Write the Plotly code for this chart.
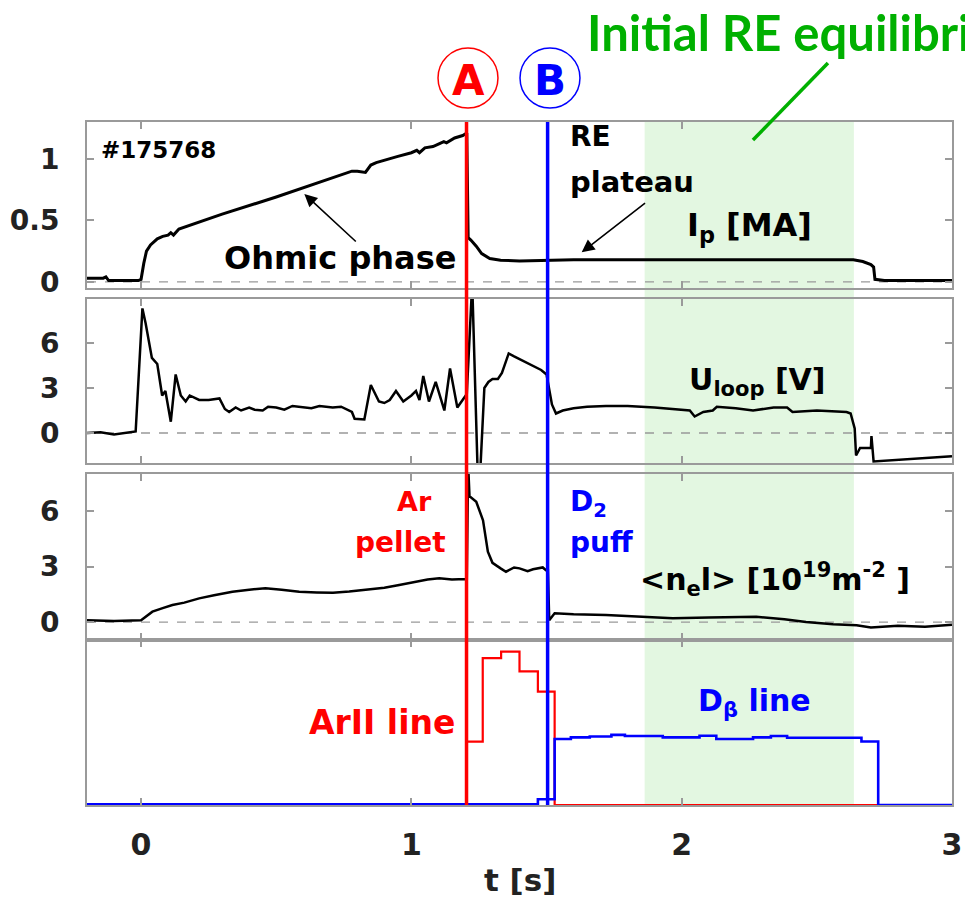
import plotly.graph_objects as go

# ---------------- data ----------------
t_ip = [-0.2, -0.14, -0.13, -0.12, -0.01, 0.0, 0.01, 0.02, 0.035, 0.06, 0.08, 0.1, 0.11, 0.12, 0.14,
        0.3, 0.5, 0.7, 0.78, 0.8, 0.83, 0.85, 0.87, 0.95, 1.0, 1.02, 1.03, 1.05, 1.08, 1.1, 1.12, 1.13,
        1.16, 1.19, 1.2, 1.205, 1.21, 1.22, 1.24, 1.26, 1.29, 1.33, 1.4, 1.5, 1.6, 1.8, 2.0, 2.2, 2.4,
        2.6, 2.635, 2.67, 2.70, 2.71, 2.715, 2.75, 3.0]
ip = [0.03, 0.03, 0.04, 0.01, 0.01, 0.02, 0.15, 0.25, 0.30, 0.35, 0.37, 0.38, 0.40, 0.38, 0.43,
      0.55, 0.69, 0.84, 0.90, 0.90, 0.89, 0.95, 0.97, 1.02, 1.05, 1.07, 1.05, 1.09, 1.10, 1.12, 1.14, 1.13,
      1.17, 1.19, 1.20, 1.21, 0.36, 0.34, 0.29, 0.23, 0.19, 0.175, 0.17, 0.175, 0.18, 0.18, 0.18, 0.18, 0.18,
      0.18, 0.18, 0.165, 0.14, 0.12, 0.02, 0.01, 0.01]

t_u = [-0.2, -0.15, -0.1, -0.05, -0.02, 0.005, 0.017, 0.04, 0.06, 0.078, 0.09, 0.11, 0.128, 0.147,
       0.165, 0.18, 0.215, 0.25, 0.29, 0.31, 0.326, 0.35, 0.37, 0.4, 0.42, 0.45, 0.47, 0.5, 0.53, 0.56,
       0.6, 0.63, 0.66, 0.709, 0.74, 0.76, 0.78,
       0.79, 0.826, 0.85, 0.88, 0.9, 0.92, 0.943, 0.97, 1.0, 1.017, 1.03, 1.044, 1.065, 1.09, 1.122,
       1.143, 1.17, 1.196, 1.205, 1.225, 1.245, 1.255, 1.27, 1.285, 1.30, 1.32, 1.335, 1.36, 1.38,
       1.48, 1.50, 1.52, 1.535, 1.56, 1.6, 1.65, 1.72, 1.8, 1.9, 2.03, 2.048, 2.08, 2.115, 2.13, 2.2,
       2.264, 2.34, 2.39, 2.41, 2.5, 2.61, 2.625, 2.64, 2.645, 2.66, 2.70, 2.702, 2.71, 3.0]
u_loop = [0.0, 0.05, -0.1, 0.05, 0.1, 8.3, 7.3, 5.0, 4.6, 2.5, 2.8, 0.75, 3.9, 2.5,
          2.1, 2.5, 2.2, 2.2, 2.3, 1.6, 1.4, 1.7, 1.5, 1.7, 1.55, 1.5, 1.75, 1.7, 1.55, 1.8,
          1.7, 1.65, 1.8, 1.7, 1.75, 1.6, 1.4,
          0.95, 0.9, 3.2, 2.1, 2.0, 2.2, 2.8, 2.1, 2.5, 2.8, 2.2, 3.8, 2.1, 3.4, 1.5,
          4.3, 1.7, 2.4, 2.6, 10.0, -2.5, -2.5, 3.0, 3.4, 3.6, 3.6, 4.0, 5.3, 5.1,
          4.2, 3.9, 1.9, 1.3, 1.5, 1.65, 1.75, 1.8, 1.8, 1.7, 1.5, 1.1, 1.4, 1.5, 1.75, 1.65,
          1.5, 1.7, 1.7, 1.4, 1.5, 1.4, 1.3, 0.3, -1.5, -1.0, -1.0, -0.2, -1.9, -1.55]

t_ne = [-0.2, -0.1, 0.0, 0.042, 0.08, 0.116, 0.16, 0.215, 0.27, 0.338, 0.4, 0.46, 0.52, 0.585, 0.65,
        0.71, 0.77, 0.83, 0.9, 0.955, 1.017, 1.06, 1.103, 1.15, 1.2, 1.205, 1.21, 1.215, 1.24, 1.265,
        1.283, 1.30, 1.33, 1.35, 1.38, 1.40, 1.43, 1.45, 1.486, 1.498, 1.505, 1.51, 1.53, 1.6, 1.72,
        1.85, 1.967, 2.1, 2.276, 2.38, 2.46, 2.56, 2.647, 2.7, 2.8, 2.9, 3.0]
ne_l = [0.1, 0.05, 0.1, 0.56, 0.75, 0.92, 1.05, 1.28, 1.45, 1.64, 1.75, 1.82, 1.75, 1.64, 1.6,
        1.58, 1.65, 1.73, 1.85, 2.0, 2.18, 2.3, 2.36, 2.3, 2.32, 2.3, 8.5, 6.8, 6.5, 5.5,
        3.8, 3.2, 2.9, 2.72, 2.95, 2.9, 2.75, 2.85, 2.95, 2.8, 2.8, 0.1, 0.47, 0.42, 0.38,
        0.3, 0.2, 0.25, 0.29, 0.15, 0.0, -0.12, -0.18, -0.3, -0.2, -0.25, -0.15]

t_ar = [-0.2, 1.205, 1.264, 1.332, 1.40, 1.468, 1.53, 3.0]
ar_line = [0.0, 0.384, 0.89, 0.93, 0.81, 0.687, 0.0, 0.0]

t_db = [-0.2, 1.468, 1.53, 1.59, 1.66, 1.74, 1.79, 1.93, 2.066, 2.128, 2.264, 2.33, 2.39, 2.665, 2.727, 3.0]
db_line = [0.005, 0.035, 0.40, 0.41, 0.415, 0.425, 0.418, 0.41, 0.42, 0.40, 0.41, 0.418, 0.408, 0.385, 0.0, 0.0]

t_pellet = 1.204   # event A
t_puff = 1.504     # event B
re_window = [1.863, 2.637]
x_ticks = [0, 1, 2, 3]

# ---------------- figure ----------------
FONT = "DejaVu Sans"
TITLE_FONT = "Lato"
fig = go.Figure()

fig.add_trace(go.Scatter(x=t_ip, y=ip, mode="lines", line=dict(color="black", width=3), xaxis="x", yaxis="y"))
fig.add_trace(go.Scatter(x=t_u, y=u_loop, mode="lines", line=dict(color="black", width=2.5), xaxis="x2", yaxis="y2"))
fig.add_trace(go.Scatter(x=t_ne, y=ne_l, mode="lines", line=dict(color="black", width=2.5), xaxis="x3", yaxis="y3"))
fig.add_trace(go.Scatter(x=t_ar, y=ar_line, mode="lines", line=dict(color="red", width=2.2, shape="hv"), xaxis="x4", yaxis="y4"))
fig.add_trace(go.Scatter(x=t_db, y=db_line, mode="lines", line=dict(color="blue", width=2.6, shape="hv"), xaxis="x4", yaxis="y4"))

frame = dict(showline=True, linecolor="#9a9a9a", linewidth=2, mirror="ticks", ticks="inside",
             ticklen=7, tickcolor="#9a9a9a", tickwidth=1.5, showgrid=False, zeroline=False,
             automargin=False)
ytickfont = dict(family=FONT, size=28, color="#222222", weight="bold")
xtickfont = dict(family=FONT, size=30, color="#222222", weight="bold")

domains = {"y": [0.7570, 1.0], "y2": [0.5007, 0.7409], "y3": [0.2416, 0.4846], "y4": [0.0, 0.2416]}
layout = dict(
    width=965, height=901,
    margin=dict(l=87, r=13, t=122, b=96, autoexpand=False),
    paper_bgcolor="white", plot_bgcolor="rgba(0,0,0,0)",
    showlegend=False,
)
for i, (yname, dom) in enumerate(domains.items(), start=1):
    xname = "xaxis" if i == 1 else f"xaxis{i}"
    layout[xname] = dict(frame, domain=[0, 1], anchor=yname, range=[-0.2, 3],
                         tickvals=x_ticks, showticklabels=(i == 4), tickfont=xtickfont,
                         ticklabelstandoff=12, **({} if i == 1 else {"matches": "x"}))
layout["yaxis"] = dict(frame, domain=domains["y"], anchor="x", range=[-0.05, 1.3],
                       tickvals=[0, 0.5, 1], ticktext=["0", "0.5", "1"], tickfont=ytickfont, ticklabelstandoff=20)
layout["yaxis2"] = dict(frame, domain=domains["y2"], anchor="x2", range=[-2, 8.93],
                        tickvals=[0, 3, 6], tickfont=ytickfont, ticklabelstandoff=20)
layout["yaxis3"] = dict(frame, domain=domains["y3"], anchor="x3", range=[-0.97, 8.0],
                        tickvals=[0, 3, 6], tickfont=ytickfont, ticklabelstandoff=20)
layout["yaxis4"] = dict(frame, domain=domains["y4"], anchor="x4", range=[0, 1.0],
                        tickvals=[], showticklabels=False)
fig.update_layout(**layout)

shapes = []
# green RE equilibrium window
shapes.append(dict(type="rect", xref="x", yref="paper", x0=re_window[0], x1=re_window[1], y0=0, y1=1,
                   fillcolor="#e3f7e1", line=dict(width=0), layer="below"))
# dashed zero lines
for xr, yr in [("x", "y"), ("x2", "y2"), ("x3", "y3")]:
    shapes.append(dict(type="line", xref=xr, yref=yr, x0=-0.2, x1=3, y0=0, y1=0,
                       line=dict(color="#999999", width=1.3, dash="dash"), layer="below"))
# event markers
shapes.append(dict(type="line", xref="x", yref="paper", x0=t_pellet, x1=t_pellet, y0=0, y1=1,
                   line=dict(color="red", width=3.5)))
shapes.append(dict(type="line", xref="x", yref="paper", x0=t_puff, x1=t_puff, y0=0, y1=1,
                   line=dict(color="blue", width=3.5)))
# circles A / B
shapes.append(dict(type="circle", xref="paper", yref="paper", x0=0.4058, x1=0.4751, y0=1.0205, y1=1.1083,
                   line=dict(color="red", width=1.5)))
shapes.append(dict(type="circle", xref="paper", yref="paper", x0=0.5006, x1=0.5699, y0=1.0205, y1=1.1083,
                   line=dict(color="blue", width=1.5)))
# green pointer line
shapes.append(dict(type="line", xref="paper", yref="paper", x0=0.8566, y0=1.0864, x1=0.7699, y1=0.9736,
                   line=dict(color="#00b000", width=3.5)))
fig.update_layout(shapes=shapes)


def txt(text, x, y, xref, yref, size, color="black", xanchor="center", yanchor="middle",
        align="center", family=FONT):
    return dict(text=text, x=x, y=y, xref=xref, yref=yref, showarrow=False, xanchor=xanchor,
                yanchor=yanchor, align=align,
                font=dict(family=family, size=size, color=color, weight="bold"))


ann = [
    txt("A", 0.4405, 1.061, "paper", "paper", 42, "red"),
    txt("B", 0.5352, 1.061, "paper", "paper", 42, "blue"),
    txt("Initial RE equilibrium", 0.5757, 1.1318, "paper", "paper", 49, "#00b000", xanchor="left",
        family=TITLE_FONT),
    txt("#175768", -0.156, 1.07, "x", "y", 23, xanchor="left"),
    txt("Ohmic phase", 0.737, 0.195, "x", "y", 32),
    txt("RE", 1.578, 1.18, "x", "y", 28, xanchor="left"),
    txt("plateau", 1.578, 0.81, "x", "y", 29, xanchor="left"),
    txt("I<sub>p</sub> [MA]", 2.25, 0.45, "x", "y", 32),
    txt("U<sub>loop</sub> [V]", 2.28, 3.4, "x2", "y2", 30),
    txt("Ar", 1.085, 6.5, "x3", "y3", 27, "red", xanchor="right"),
    txt("pellet", 1.135, 4.3, "x3", "y3", 28, "red", xanchor="right"),
    txt("D<sub>2</sub>", 1.578, 6.4, "x3", "y3", 28, "blue", xanchor="left"),
    txt("puff", 1.578, 4.3, "x3", "y3", 28, "blue", xanchor="left"),
    txt("&lt;n<sub>e</sub>l&gt; [10<sup>19</sup>m<sup>-2</sup> ]", 2.344, 2.3, "x3", "y3", 30),
    txt("ArII line", 1.17, 0.50, "x4", "y4", 33, "red", xanchor="right"),
    txt("D<sub>β</sub> line", 2.27, 0.62, "x4", "y4", 30, "blue"),
    txt("t [s]", 0.5, -0.11, "paper", "paper", 31, "#222222"),
    # arrows
    dict(x=0.604, y=0.715, ax=0.80, ay=0.317, xref="x", yref="y", axref="x", ayref="y", text="",
         showarrow=True, arrowhead=2, arrowsize=1.6, arrowwidth=1.6, arrowcolor="black"),
    dict(x=1.63, y=0.24, ax=1.87, ay=0.65, xref="x", yref="y", axref="x", ayref="y", text="",
         showarrow=True, arrowhead=2, arrowsize=1.6, arrowwidth=1.6, arrowcolor="black"),
]
fig.update_layout(annotations=ann)

fig.write_html("out.html", config={"displayModeBar": False},
               post_script="document.body.style.margin='0px';document.body.style.overflow='hidden';")
